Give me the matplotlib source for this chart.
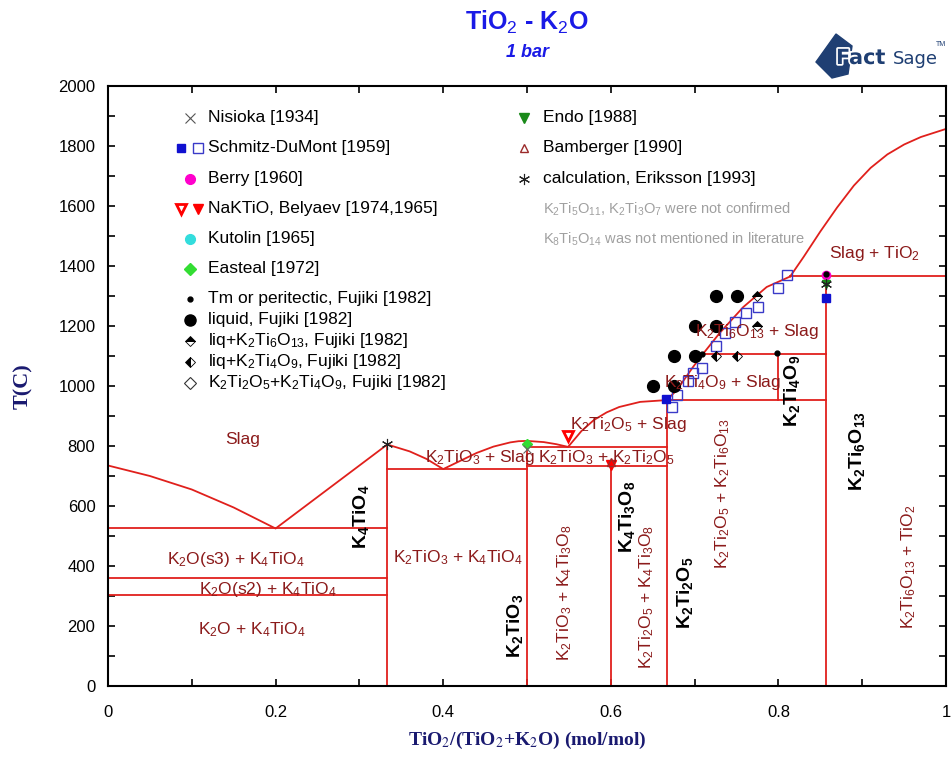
import numpy as np
import matplotlib
matplotlib.use('Agg')
import matplotlib.pyplot as plt
import matplotlib.patheffects as pe
from matplotlib.patches import Polygon

plt.rcParams['font.family'] = ['Liberation Sans', 'DejaVu Sans']
plt.rcParams['mathtext.fontset'] = 'custom'
plt.rcParams['mathtext.rm'] = 'Liberation Sans'
plt.rcParams['mathtext.it'] = 'Liberation Sans:italic'
plt.rcParams['mathtext.bf'] = 'Liberation Sans:bold'

'---------------- data ----------------'
# liquidus (x = TiO2 mole fraction, T in C)
liq_x = [0, 0.05, 0.1, 0.15, 0.2, 0.25, 0.3, 0.3333, 0.36, 0.38, 0.4,
         0.42, 0.44, 0.46, 0.48, 0.49, 0.5, 0.52, 0.535, 0.549, 0.565, 0.58,
         0.595, 0.61, 0.635, 0.6667, 0.679, 0.698, 0.71, 0.73, 0.758, 0.786, 0.814]
liq_T = [735, 700, 655, 595, 525, 630, 735, 805, 782, 757, 723,
         750, 777, 798, 812, 816, 817, 813, 806, 797, 850, 887,
         912, 930, 947, 953, 987, 1063, 1107, 1177, 1263, 1330, 1365]
tio2_x = [0.814, 0.83, 0.85, 0.87, 0.89, 0.91, 0.93, 0.95, 0.97, 1.0]
tio2_T = [1365, 1430, 1515, 1595, 1668, 1727, 1772, 1805, 1830, 1857]

# invariant lines: (x_start, x_end, T)
h_lines = [(0, 0.3333, 525), (0, 0.3333, 360), (0, 0.3333, 303),
           (0.3333, 0.5, 723), (0.5, 0.6667, 797), (0.5, 0.6667, 733),
           (0.6667, 0.8571, 953), (0.71, 0.8571, 1107), (0.814, 1.0, 1365)]
# compound lines: (x, T_low, T_high)
v_lines = [(0.3333, 0, 805), (0.5, 0, 817), (0.6, 0, 733), (0.6667, 0, 953),
           (0.8, 953, 1107), (0.8571, 0, 1365)]

# experimental points
schmitz_open_x = [0.673, 0.679, 0.692, 0.698, 0.709, 0.726, 0.736, 0.748, 0.761, 0.776, 0.800, 0.810]
schmitz_open_T = [930, 970, 1017, 1043, 1060, 1133, 1177, 1213, 1243, 1263, 1327, 1370]
schmitz_fill_x = [0.666, 0.8571]
schmitz_fill_T = [957, 1293]
berry_x = [0.8571]
berry_T = [1370]
fujiki_liq_x = [0.65, 0.675, 0.675, 0.70, 0.70, 0.725, 0.725, 0.75]
fujiki_liq_T = [1000, 1000, 1100, 1100, 1200, 1200, 1300, 1300]
fujiki_tm_x = [0.709, 0.798, 0.8571]
fujiki_tm_T = [1105, 1110, 1372]
fujiki_k2ti6_x = [0.774, 0.774]
fujiki_k2ti6_T = [1200, 1300]
fujiki_k2ti4_x = [0.726, 0.75]
fujiki_k2ti4_T = [1100, 1100]
endo_x = [0.8571]
endo_T = [1340]
eriksson_x = [0.3333, 0.8571]
eriksson_T = [805, 1340]
easteal_x = [0.5]
easteal_T = [805]
nisioka_x = [0.5]
nisioka_T = [790]
belyaev_open_x = [0.549]
belyaev_open_T = [833]
belyaev_fill_x = [0.6]
belyaev_fill_T = [735]
bamberger_x = [0.6]
bamberger_T = [745]

# phase region labels: (text, x, T, rotation)
phase_labels = [
    ('Slag', 0.161, 820, 0),
    ('Slag + TiO$_2$', 0.915, 1443, 0),
    ('K$_2$Ti$_6$O$_{13}$ + Slag', 0.774, 1183, 0),
    ('K$_2$Ti$_4$O$_9$ + Slag', 0.733, 1013, 0),
    ('K$_2$Ti$_2$O$_5$ + Slag', 0.621, 870, 0),
    ('K$_2$TiO$_3$ + Slag', 0.444, 760, 0),
    ('K$_2$TiO$_3$ + K$_2$Ti$_2$O$_5$', 0.595, 760, 0),
    ('K$_2$O(s3) + K$_4$TiO$_4$', 0.153, 420, 0),
    ('K$_2$O(s2) + K$_4$TiO$_4$', 0.191, 320, 0),
    ('K$_2$O + K$_4$TiO$_4$', 0.172, 187, 0),
    ('K$_2$TiO$_3$ + K$_4$TiO$_4$', 0.418, 427, 0),
    ('K$_2$TiO$_3$ + K$_4$Ti$_3$O$_8$', 0.545, 313, 90),
    ('K$_2$Ti$_2$O$_5$ + K$_4$Ti$_3$O$_8$', 0.643, 297, 90),
    ('K$_2$Ti$_2$O$_5$ + K$_2$Ti$_6$O$_{13}$', 0.734, 640, 90),
    ('K$_2$Ti$_6$O$_{13}$ + TiO$_2$', 0.955, 397, 90),
]
compound_labels = [
    (r'$\mathbf{K_4TiO_4}$', 0.302, 563),
    (r'$\mathbf{K_2TiO_3}$', 0.486, 200),
    (r'$\mathbf{K_4Ti_3O_8}$', 0.619, 563),
    (r'$\mathbf{K_2Ti_2O_5}$', 0.689, 310),
    (r'$\mathbf{K_2Ti_4O_9}$', 0.816, 985),
    (r'$\mathbf{K_2Ti_6O_{13}}$', 0.894, 783),
]

RED = '#e0201c'
DRED = '#8b1a1a'
BLUE = '#3a3ac8'
NAVY = '#1f3f73'


def draw_points(ax):
    ax.plot(schmitz_open_x, schmitz_open_T, 's', ms=6.5, mfc='none', mec=BLUE, mew=1.0)
    ax.plot(schmitz_fill_x, schmitz_fill_T, 's', ms=6, color='#1010d0')
    ax.plot(berry_x, berry_T, 'o', ms=6, color='#ff00cc')
    ax.plot(fujiki_liq_x, fujiki_liq_T, 'o', ms=8.5, color='black')
    ax.plot(fujiki_tm_x, fujiki_tm_T, 'o', ms=3.5, color='black')
    ax.plot(fujiki_k2ti6_x, fujiki_k2ti6_T, 'D', ms=5, fillstyle='top', color='black', mew=0.6)
    ax.plot(fujiki_k2ti4_x, fujiki_k2ti4_T, 'D', ms=5, fillstyle='left', color='black', mew=0.6)
    ax.plot(endo_x, endo_T, 'v', ms=6, color='#1a8a1a')
    ax.plot(eriksson_x, eriksson_T, marker=(6, 2, 0), ls='none', ms=8, color='#222222', mew=0.8)
    ax.plot(easteal_x, easteal_T, 'D', ms=5, color='#33dd33')
    ax.plot(nisioka_x, nisioka_T, 'x', ms=6, color='#666666', mew=0.8)
    ax.plot(belyaev_open_x, belyaev_open_T, 'v', ms=7, mfc='white', mec='red', mew=2)
    ax.plot(belyaev_fill_x, belyaev_fill_T, 'v', ms=7, color='red')
    ax.plot(bamberger_x, bamberger_T, '^', ms=6, mfc='none', mec='#9b2a2a', mew=1)


def draw_legend(ax):
    tr = ax.transAxes
    fs = 12.5
    rows_y = [0.947, 0.897, 0.845, 0.795, 0.745, 0.695, 0.645, 0.610, 0.575, 0.540, 0.505]
    mx, tx = 0.098, 0.119
    left = [
        ('Nisioka [1934]', [dict(marker='x', color='#555555', ms=7, mew=0.8)]),
        ('Schmitz-DuMont [1959]', [dict(marker='s', color='#1010d0', ms=6),
                                   dict(marker='s', mfc='none', mec=BLUE, ms=6.5, mew=1)]),
        ('Berry [1960]', [dict(marker='o', color='#ff00cc', ms=7)]),
        ('NaKTiO, Belyaev [1974,1965]', [dict(marker='v', mfc='white', mec='red', ms=7, mew=2),
                                         dict(marker='v', color='red', ms=7)]),
        ('Kutolin [1965]', [dict(marker='o', color='#33dddd', ms=7)]),
        ('Easteal [1972]', [dict(marker='D', color='#33dd33', ms=6)]),
        ('Tm or peritectic, Fujiki [1982]', [dict(marker='o', color='black', ms=3.5)]),
        ('liquid, Fujiki [1982]', [dict(marker='o', color='black', ms=8)]),
        ('liq+K$_2$Ti$_6$O$_{13}$, Fujiki [1982]', [dict(marker='D', fillstyle='top', color='black', ms=5, mew=0.6)]),
        ('liq+K$_2$Ti$_4$O$_9$, Fujiki [1982]', [dict(marker='D', fillstyle='left', color='black', ms=5, mew=0.6)]),
        ('K$_2$Ti$_2$O$_5$+K$_2$Ti$_4$O$_9$, Fujiki [1982]', [dict(marker='D', mfc='none', mec='#333333', ms=6, mew=0.8)]),
    ]
    for (label, styles), y in zip(left, rows_y):
        if len(styles) == 1:
            ax.plot([mx], [y], ls='none', transform=tr, clip_on=False, **styles[0])
        else:
            ax.plot([mx - 0.011], [y], ls='none', transform=tr, clip_on=False, **styles[0])
            ax.plot([mx + 0.010], [y], ls='none', transform=tr, clip_on=False, **styles[1])
        ax.text(tx, y, label, transform=tr, fontsize=fs, va='center', ha='left')

    rx, rtx = 0.497, 0.519
    right = [
        ('Endo [1988]', dict(marker='v', color='#1a8a1a', ms=7)),
        ('Bamberger [1990]', dict(marker='^', mfc='none', mec='#9b2a2a', ms=6, mew=1)),
        ('calculation, Eriksson [1993]', dict(marker=(6, 2, 0), color='#222222', ms=8, mew=0.8)),
    ]
    for (label, st), y in zip(right, rows_y[:3]):
        ax.plot([rx], [y], ls='none', transform=tr, clip_on=False, **st)
        ax.text(rtx, y, label, transform=tr, fontsize=fs, va='center', ha='left')
    ax.text(rtx, rows_y[3], 'K$_2$Ti$_5$O$_{11}$, K$_2$Ti$_3$O$_7$ were not confirmed',
            transform=tr, fontsize=10.5, color='#a0a0a0', va='center')
    ax.text(rtx, rows_y[4], 'K$_8$Ti$_5$O$_{14}$ was not mentioned in literature',
            transform=tr, fontsize=10.5, color='#a0a0a0', va='center')


def draw_logo(fig):
    W, H = 953.0, 757.0
    px = [(816, 62), (836, 34), (852, 46), (848, 74), (832, 78)]
    pts = [(a / W, 1 - b / H) for a, b in px]
    fig.patches.append(Polygon(pts, closed=True, transform=fig.transFigure,
                               color=NAVY, zorder=1))
    halo = [pe.withStroke(linewidth=2.5, foreground='white')]
    fig.text(836 / W, 1 - 58 / H, 'Fact', fontsize=15, fontweight='bold', color=NAVY,
             va='center', ha='left', zorder=2, family='Liberation Sans Narrow',
             path_effects=halo)
    fig.text(893 / W, 1 - 59 / H, 'Sage', fontsize=13, color=NAVY, va='center', ha='left',
             zorder=2, family='Liberation Sans Narrow')
    fig.text(936 / W, 1 - 44 / H, 'TM', fontsize=5, color=NAVY, va='center', ha='left')


def draw_diagram():
    fig = plt.figure(figsize=(9.53, 7.57), dpi=100)
    ax = fig.add_axes([0.1133, 0.0938, 0.8794, 0.7926])

    ax.plot(liq_x, liq_T, color=RED, lw=1.3)
    ax.plot(tio2_x, tio2_T, color=RED, lw=1.3)
    for x0, x1, t in h_lines:
        ax.plot([x0, x1], [t, t], color=RED, lw=1.3)
    for x, t0, t1 in v_lines:
        ax.plot([x, x], [t0, t1], color=RED, lw=1.3)

    draw_points(ax)

    for txt, x, t, rot in phase_labels:
        ax.text(x, t, txt, color=DRED, fontsize=12.5, ha='center', va='center', rotation=rot)
    for txt, x, t in compound_labels:
        ax.text(x, t, txt, color='black', fontsize=14, ha='center', va='center', rotation=90)

    draw_legend(ax)

    ax.set_xlim(0, 1)
    ax.set_ylim(0, 2000)
    ax.set_xticks(np.arange(0, 1.01, 0.2))
    ax.set_xticklabels(['0', '0.2', '0.4', '0.6', '0.8', '1'])
    ax.set_xticks(np.arange(0, 1.01, 0.1), minor=True)
    ax.set_yticks(np.arange(0, 2001, 200))
    ax.set_yticks(np.arange(0, 2001, 100), minor=True)
    ax.tick_params(which='both', direction='in', top=True, right=True,
                   length=5, width=1.2, labelsize=12)
    ax.tick_params(axis='x', pad=14)
    ax.tick_params(axis='y', pad=9)
    for s in ax.spines.values():
        s.set_linewidth(1.5)

    ax.set_xlabel('TiO$_2$/(TiO$_2$+K$_2$O) (mol/mol)', fontsize=14, fontweight='bold',
                  family='Liberation Serif', color='#1a1a70', math_fontfamily='stix', labelpad=7)
    ax.set_ylabel('T(C)', fontsize=16, fontweight='bold', family='Liberation Serif',
                  color='#1a1a70', labelpad=18)

    fig.text(0.553, 0.971, 'TiO$_2$ - K$_2$O', fontsize=18, fontweight='bold', color='#1a1ae6',
             ha='center', va='center')
    fig.text(0.553, 0.931, '1 bar', fontsize=13, fontweight='bold', style='italic',
             color='#1a1ae6', ha='center', va='center')
    draw_logo(fig)

    fig.savefig('out.png', dpi=100)


if __name__ == '__main__':
    draw_diagram()
